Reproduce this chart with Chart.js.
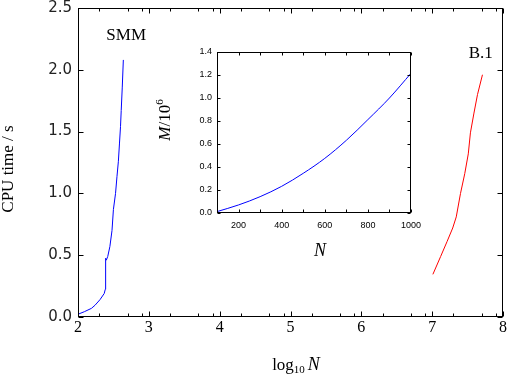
<!DOCTYPE html>
<html>
<head>
<meta charset="utf-8">
<script src="https://cdn.jsdelivr.net/npm/chart.js@4"></script>
<style>
  html, body { margin: 0; padding: 0; background: #fff; }
  #wrap { position: relative; width: 507px; height: 377px; }
  #mainChart { position: absolute; left: 0; top: 0; }
  #insetChart { position: absolute; left: 150px; top: 40px; }
</style>
</head>
<body>
<div id="wrap">
  <canvas id="mainChart" width="507" height="377"></canvas>
  <canvas id="insetChart" width="285" height="230"></canvas>
</div>
<script>
// main panel: CPU time vs log10 N
const smmLogN = [2.00, 2.09, 2.19, 2.24, 2.31, 2.37, 2.385, 2.39, 2.40, 2.42, 2.45, 2.48, 2.50, 2.53, 2.55, 2.57, 2.585, 2.60, 2.61, 2.625, 2.64];
const smmTime = [0.022, 0.043, 0.07, 0.095, 0.14, 0.19, 0.224, 0.475, 0.46, 0.49, 0.57, 0.70, 0.87, 1.00, 1.135, 1.26, 1.40, 1.54, 1.67, 1.86, 2.08];

const b1LogN = [7.01, 7.12, 7.21, 7.29, 7.34, 7.40, 7.46, 7.51, 7.54, 7.59, 7.64, 7.71];
const b1Time = [0.345, 0.49, 0.61, 0.72, 0.81, 1.00, 1.16, 1.32, 1.49, 1.65, 1.80, 1.96];

const mainXTicks = [2, 3, 4, 5, 6, 7, 8];
const mainYTicks = [0, 0.5, 1.0, 1.5, 2.0, 2.5];
const minorMantissa = [2, 5, 8];

// inset: M / 10^6 vs N
const insetN = [100, 200, 300, 400, 500, 600, 700, 800, 900, 1000];
const insetM = [0.012, 0.07, 0.142, 0.232, 0.345, 0.475, 0.632, 0.812, 1.0, 1.215];
const insetXTicks = [100, 200, 300, 400, 500, 600, 700, 800, 900, 1000];
const insetYTicks = [0, 0.2, 0.4, 0.6, 0.8, 1.0, 1.2, 1.4];

const pts = (xs, ys) => xs.map((x, i) => ({ x: x, y: ys[i] }));

// keep tick labels from shrinking the plot area
const noPadX = s => { s.paddingLeft = 0; s.paddingRight = 0; };
const noPadY = s => { s.paddingTop = 0; s.paddingBottom = 0; };

// frame + inward ticks on all four sides
function frameTicks(id, majorLen, minorLen, minorX) {
  return {
    id: id,
    afterDraw(chart) {
      const { ctx, chartArea: a, scales: { x, y } } = chart;
      const L = Math.round(a.left) + 0.5, R = Math.round(a.right) - 0.5;
      const T = Math.round(a.top) + 0.5, B = Math.round(a.bottom) - 0.5;
      ctx.save();
      ctx.strokeStyle = '#000';
      ctx.lineWidth = 1;
      ctx.strokeRect(L, T, R - L, B - T);
      ctx.beginPath();
      const xTick = (v, len) => {
        const px = Math.round(x.getPixelForValue(v)) + 0.5;
        ctx.moveTo(px, B); ctx.lineTo(px, B - len);
        ctx.moveTo(px, T); ctx.lineTo(px, T + len);
      };
      x.ticks.forEach(t => xTick(t.value, majorLen));
      minorX.forEach(v => xTick(v, minorLen));
      y.ticks.forEach(t => {
        const py = Math.round(y.getPixelForValue(t.value)) + 0.5;
        ctx.moveTo(L, py); ctx.lineTo(L + majorLen, py);
        ctx.moveTo(R, py); ctx.lineTo(R - majorLen, py);
      });
      ctx.stroke();
      ctx.restore();
    }
  };
}

const mainMinor = [];
mainXTicks.slice(0, -1).forEach(d => minorMantissa.forEach(m => mainMinor.push(d + Math.log10(m))));

const mainText = {
  id: 'mainText',
  afterDraw(chart) {
    const { ctx, scales: { x, y } } = chart;
    ctx.save();
    ctx.fillStyle = '#000';
    ctx.textBaseline = 'middle';
    ctx.textAlign = 'center';
    ctx.font = '17px "Liberation Serif"';
    ctx.fillText('SMM', x.getPixelForValue(2.68), y.getPixelForValue(2.28));
    ctx.fillText('B.1', x.getPixelForValue(7.685), y.getPixelForValue(2.13));

    // y title
    ctx.save();
    ctx.translate(9, 169);
    ctx.rotate(-Math.PI / 2);
    ctx.font = '17px "Liberation Serif"';
    ctx.fillText('CPU time / s', 0, 0);
    ctx.restore();

    // x title: log10 N
    ctx.textAlign = 'left';
    ctx.textBaseline = 'alphabetic';
    const f1 = '17px "Liberation Serif"', f2 = '11px "Liberation Serif"', f3 = 'italic 18px "Liberation Serif"';
    ctx.font = f1; const w1 = ctx.measureText('log').width;
    ctx.font = f2; const w2 = ctx.measureText('10').width;
    ctx.font = f3; const w3 = ctx.measureText('N').width;
    let cx = 296 - (w1 + w2 + 3 + w3) / 2, base = 370;
    ctx.font = f1; ctx.fillText('log', cx, base); cx += w1;
    ctx.font = f2; ctx.fillText('10', cx, base + 3); cx += w2 + 3;
    ctx.font = f3; ctx.fillText('N', cx, base);
    ctx.restore();
  }
};

new Chart(document.getElementById('mainChart'), {
  type: 'scatter',
  data: {
    datasets: [
      { label: 'SMM', data: pts(smmLogN, smmTime), showLine: true, borderColor: '#0000ff', borderWidth: 1, pointRadius: 0, tension: 0 },
      { label: 'B.1', data: pts(b1LogN, b1Time), showLine: true, borderColor: '#ff0000', borderWidth: 1, pointRadius: 0, tension: 0 }
    ]
  },
  options: {
    responsive: false,
    animation: false,
    devicePixelRatio: 1,
    layout: { padding: { top: 8, right: 4, left: 0, bottom: 0 } },
    plugins: { legend: { display: false }, tooltip: { enabled: false } },
    scales: {
      x: {
        type: 'linear', min: 2, max: 8,
        afterBuildTicks: s => { s.ticks = mainXTicks.map(v => ({ value: v })); },
        afterFit: s => { s.height = 60; noPadX(s); },
        grid: { display: false, drawTicks: false },
        border: { display: false },
        ticks: { color: '#000', padding: 1, font: { family: 'Liberation Serif', size: 16 }, callback: v => v }
      },
      y: {
        type: 'linear', min: 0, max: 2.5,
        afterBuildTicks: s => { s.ticks = mainYTicks.map(v => ({ value: v })); },
        afterFit: s => { s.width = 78; noPadY(s); },
        grid: { display: false, drawTicks: false },
        border: { display: false },
        ticks: { color: '#222', padding: 6, font: { family: 'DejaVu Sans', size: 15 }, callback: v => Number(v).toFixed(1) }
      }
    }
  },
  plugins: [frameTicks('mainFrame', 5, 3, mainMinor), mainText]
});

const insetText = {
  id: 'insetText',
  afterDraw(chart) {
    const { ctx } = chart;
    ctx.save();
    ctx.fillStyle = '#000';
    ctx.textBaseline = 'alphabetic';
    ctx.textAlign = 'left';
    // y title M/10^6
    ctx.translate(20, 80);
    ctx.rotate(-Math.PI / 2);
    const fa = 'italic 17px "Liberation Serif"', fb = '17px "Liberation Serif"', fc = '11px "Liberation Serif"';
    ctx.font = fa; const wa = ctx.measureText('M').width;
    ctx.font = fb; const wb = ctx.measureText('/10').width;
    ctx.font = fc; const wc = ctx.measureText('6').width;
    let cx = -(wa + wb + wc) / 2;
    ctx.font = fa; ctx.fillText('M', cx, 0); cx += wa;
    ctx.font = fb; ctx.fillText('/10', cx, 0); cx += wb;
    ctx.font = fc; ctx.fillText('6', cx, -7);
    ctx.restore();
    // x title N
    ctx.save();
    ctx.fillStyle = '#000';
    ctx.textAlign = 'center';
    ctx.textBaseline = 'alphabetic';
    ctx.font = 'italic 18px "Liberation Serif"';
    ctx.fillText('N', 170, 216);
    ctx.restore();
  }
};

new Chart(document.getElementById('insetChart'), {
  type: 'scatter',
  data: {
    datasets: [
      { label: 'M', data: pts(insetN, insetM), showLine: true, borderColor: '#0000ff', borderWidth: 1, pointRadius: 0, cubicInterpolationMode: 'monotone' }
    ]
  },
  options: {
    responsive: false,
    animation: false,
    devicePixelRatio: 1,
    layout: { padding: { top: 12, right: 24, left: 0, bottom: 0 } },
    plugins: { legend: { display: false }, tooltip: { enabled: false } },
    scales: {
      x: {
        type: 'linear', min: 100, max: 1000,
        afterBuildTicks: s => { s.ticks = insetXTicks.map(v => ({ value: v })); },
        afterFit: s => { s.height = 57; noPadX(s); },
        grid: { display: false, drawTicks: false },
        border: { display: false },
        ticks: { color: '#000', padding: 7, autoSkip: false, maxRotation: 0, font: { family: 'Liberation Sans', size: 9 }, callback: v => (v % 200 === 0 ? v : '') }
      },
      y: {
        type: 'linear', min: 0, max: 1.4,
        afterBuildTicks: s => { s.ticks = insetYTicks.map(v => ({ value: v })); },
        afterFit: s => { s.width = 67; noPadY(s); },
        grid: { display: false, drawTicks: false },
        border: { display: false },
        ticks: { color: '#000', padding: 5, font: { family: 'Liberation Sans', size: 9 }, callback: v => Number(v).toFixed(1) }
      }
    }
  },
  plugins: [frameTicks('insetFrame', 3, 3, []), insetText]
});
</script>
</body>
</html>
